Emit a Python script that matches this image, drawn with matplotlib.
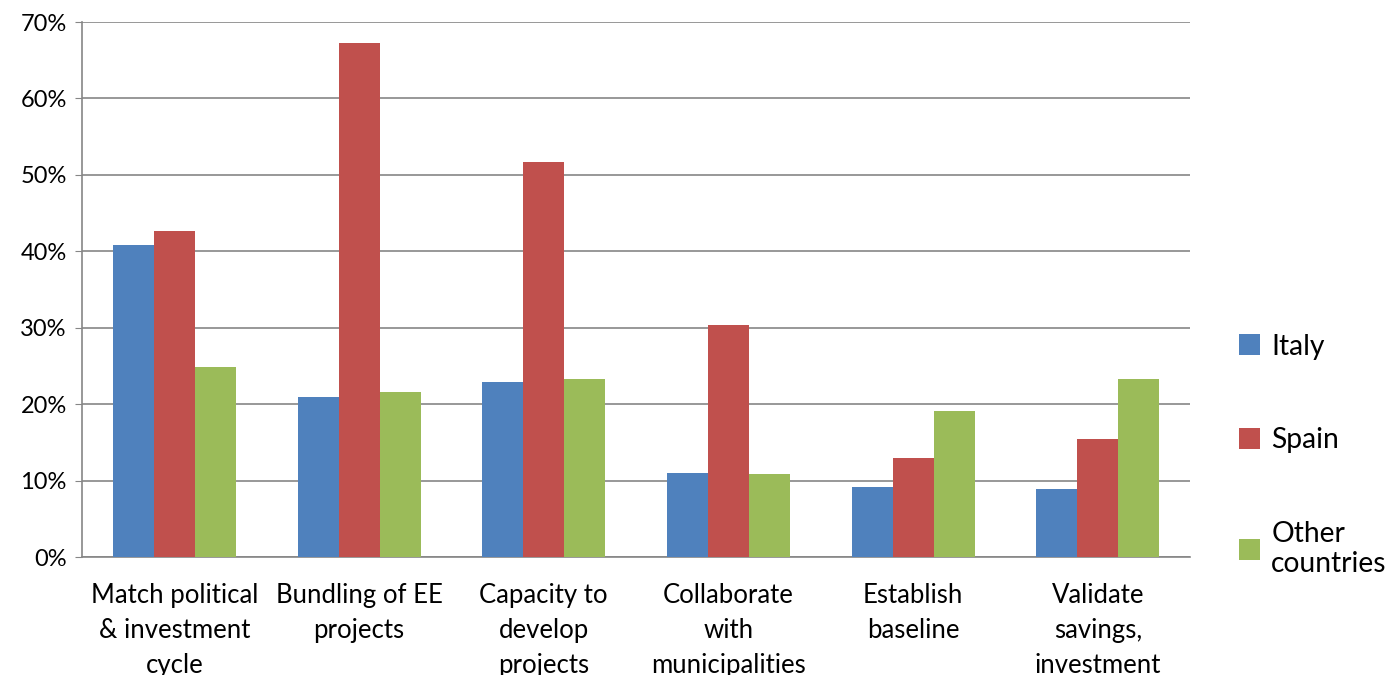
import matplotlib.pyplot as plt
import numpy as np

plt.rcParams['font.family'] = ['Lato', 'DejaVu Sans']

categories = ["Match political\n& investment\ncycle", "Bundling of EE\nprojects",
              "Capacity to\ndevelop\nprojects", "Collaborate\nwith\nmunicipalities",
              "Establish\nbaseline", "Validate\nsavings,\ninvestment"]
italy = [40.8, 21.0, 22.9, 11.0, 9.2, 8.9]
spain = [42.6, 67.2, 51.7, 30.3, 13.0, 15.5]
other = [24.9, 21.6, 23.3, 10.8, 19.1, 23.3]
series = ["Italy", "Spain", "Other\ncountries"]
colors = ["#4F81BD", "#C0504D", "#9BBB59"]

fig = plt.figure(figsize=(13.92, 6.75), dpi=100)
ax = fig.add_axes([0.0589, 0.1748, 0.7961, 0.7926])

x = np.arange(len(categories))
w = 0.222
for i, (vals, name, c) in enumerate(zip([italy, spain, other], series, colors)):
    ax.bar(x + (i - 1) * w, vals, width=w, color=c, label=name, zorder=3)

ax.set_xlim(-0.5, len(categories) - 0.5)
ax.set_ylim(0, 70)
ax.set_yticks(range(0, 71, 10))
ax.set_yticklabels([f"{v}%" for v in range(0, 71, 10)], fontsize=17)
ax.set_xticks(x)
ax.set_xticklabels(categories, fontsize=18.5, linespacing=1.5, va="top")
ax.tick_params(axis="x", length=0, pad=19)
ax.tick_params(axis="y", length=5, color="#868686", pad=6)
ax.yaxis.grid(True, color="#868686", linewidth=1.2, zorder=0)
for s in ["top", "right"]:
    ax.spines[s].set_visible(False)
for s in ["left", "bottom"]:
    ax.spines[s].set_color("#868686")
    ax.spines[s].set_linewidth(1.2)

ax.legend(loc="center left", bbox_to_anchor=(1.044, 0.19), frameon=False,
          borderpad=0, borderaxespad=0,
          fontsize=20.3, handlelength=0.75, handleheight=0.75, labelspacing=2.4,
          handletextpad=0.4)

fig.savefig("out.png", dpi=100)
